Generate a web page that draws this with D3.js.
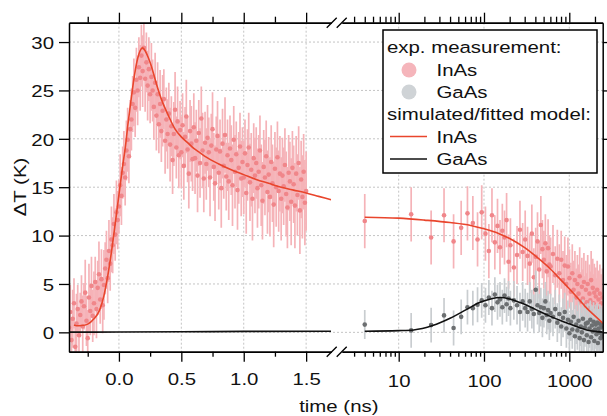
<!DOCTYPE html>
<html>
<head>
<meta charset="utf-8">
<script src="https://cdn.jsdelivr.net/npm/d3@7"></script>
<style>
  html, body { margin: 0; padding: 0; background: #fff; }
  svg { display: block; }
</style>
</head>
<body>
<div id="wrapper"></div>
<script>
// ---- data ----
// exp. InAs, short delays (linear part): [time ns, dT K, error K]
const inasShort = [
  [-0.40, 0.5, 2.4], [-0.39, 2.1, 2.8], [-0.38, -0.8, 2.2], [-0.37, 1.4, 3.0], [-0.36, 3.0, 2.6],
  [-0.35, -1.5, 2.4], [-0.34, 0.9, 3.1], [-0.33, 2.4, 2.5], [-0.32, -0.3, 2.9], [-0.31, 1.8, 2.3],
  [-0.30, 3.2, 2.7], [-0.29, 0.6, 3.2], [-0.28, 2.7, 2.4], [-0.27, 4.1, 3.4], [-0.26, 1.2, 2.6],
  [-0.25, -0.6, 2.9], [-0.24, 3.6, 3.5], [-0.23, 2.2, 2.5], [-0.22, 4.8, 3.0], [-0.21, 1.7, 2.7],
  [-0.20, 3.0, 3.3], [-0.19, 5.2, 2.6], [-0.18, 2.4, 3.0], [-0.17, 4.6, 2.8], [-0.16, 6.0, 3.4],
  [-0.15, 3.4, 2.5], [-0.14, 5.5, 3.1], [-0.13, 2.8, 2.9], [-0.12, 4.9, 3.6], [-0.11, 6.6, 2.7],
  [-0.10, 7.5, 3.0], [-0.09, 5.6, 2.6], [-0.08, 8.4, 3.2], [-0.07, 7.1, 2.8], [-0.06, 9.6, 3.4],
  [-0.05, 9.0, 2.9], [-0.04, 11.2, 3.1], [-0.03, 10.1, 2.7], [-0.02, 12.4, 3.3], [-0.01, 11.6, 3.0],
  [0.00, 13.0, 2.8], [0.01, 15.2, 3.2], [0.02, 14.1, 3.0], [0.03, 16.5, 2.7], [0.04, 17.4, 3.4],
  [0.05, 16.0, 2.9], [0.06, 18.8, 3.1], [0.07, 19.9, 3.3], [0.08, 18.2, 2.8], [0.09, 21.0, 3.0],
  [0.10, 22.0, 3.2], [0.11, 23.6, 2.9], [0.12, 24.8, 3.5], [0.13, 23.2, 3.0], [0.14, 26.1, 3.3],
  [0.15, 25.0, 3.6], [0.16, 27.4, 3.1], [0.17, 26.3, 3.4], [0.18, 28.6, 3.2], [0.19, 27.0, 3.7],
  [0.20, 29.4, 3.0], [0.21, 26.2, 3.4], [0.22, 27.9, 3.1], [0.23, 25.5, 3.6], [0.24, 27.2, 3.3],
  [0.25, 24.6, 3.0], [0.26, 26.4, 3.5], [0.27, 25.0, 3.2], [0.28, 23.3, 3.4], [0.29, 25.8, 3.1],
  [0.30, 22.4, 3.6], [0.31, 24.6, 3.3], [0.32, 21.5, 3.0], [0.33, 23.6, 3.5], [0.34, 20.8, 3.2],
  [0.35, 22.9, 3.7], [0.36, 24.1, 3.1], [0.37, 19.8, 3.4], [0.38, 22.0, 3.3], [0.39, 20.5, 3.6],
  [0.40, 22.6, 3.2], [0.41, 19.4, 3.8], [0.42, 21.3, 3.1], [0.43, 17.8, 3.5], [0.44, 20.5, 3.3],
  [0.45, 23.0, 3.9], [0.46, 19.1, 3.2], [0.47, 21.8, 3.6], [0.48, 18.3, 3.4], [0.49, 20.9, 3.0],
  [0.50, 18.6, 3.7], [0.51, 21.4, 3.3], [0.52, 17.2, 3.5], [0.53, 20.2, 3.1], [0.54, 22.3, 3.8],
  [0.55, 18.9, 3.4], [0.56, 16.4, 3.6], [0.57, 20.8, 3.2], [0.58, 19.5, 3.9], [0.59, 17.9, 3.3],
  [0.60, 21.2, 3.5], [0.61, 18.0, 3.7], [0.62, 19.8, 3.2], [0.63, 16.2, 3.8], [0.64, 20.6, 3.4],
  [0.65, 17.5, 3.6], [0.66, 22.1, 3.3], [0.67, 18.8, 3.9], [0.68, 15.9, 3.5], [0.69, 19.6, 3.2],
  [0.70, 17.4, 3.7], [0.71, 20.1, 3.4], [0.72, 18.6, 3.6], [0.73, 16.0, 4.0], [0.74, 19.3, 3.3],
  [0.75, 21.0, 3.8], [0.76, 17.1, 3.5], [0.77, 15.4, 3.9], [0.78, 18.9, 3.4], [0.79, 20.3, 3.6],
  [0.80, 16.5, 3.8], [0.81, 18.7, 3.3], [0.82, 14.9, 4.1], [0.83, 19.5, 3.6], [0.84, 17.2, 3.4],
  [0.85, 20.4, 3.9], [0.86, 16.1, 3.5], [0.87, 18.3, 3.7], [0.88, 15.6, 4.0], [0.89, 19.0, 3.4],
  [0.90, 17.8, 3.6], [0.91, 15.2, 4.2], [0.92, 19.9, 3.5], [0.93, 16.6, 3.8], [0.94, 18.4, 3.4],
  [0.95, 14.7, 4.1], [0.96, 17.0, 3.7], [0.97, 19.2, 3.5], [0.98, 15.9, 3.9], [0.99, 17.6, 3.6],
  [1.00, 16.0, 3.8], [1.01, 18.5, 3.5], [1.02, 14.4, 4.2], [1.03, 17.3, 3.7], [1.04, 19.1, 3.6],
  [1.05, 15.5, 4.0], [1.06, 16.8, 3.8], [1.07, 13.8, 4.3], [1.08, 18.0, 3.6], [1.09, 16.2, 3.9],
  [1.10, 17.5, 3.7], [1.11, 14.9, 4.1], [1.12, 16.6, 3.8], [1.13, 18.8, 3.6], [1.14, 15.2, 4.2],
  [1.15, 13.6, 4.0], [1.16, 17.1, 3.8], [1.17, 16.0, 3.9], [1.18, 18.2, 3.7], [1.19, 14.5, 4.3],
  [1.20, 16.3, 3.9], [1.21, 14.0, 4.1], [1.22, 17.6, 3.8], [1.23, 15.4, 4.0], [1.24, 13.2, 4.4],
  [1.25, 16.9, 3.8], [1.26, 15.0, 4.1], [1.27, 18.1, 3.7], [1.28, 14.6, 4.2], [1.29, 16.4, 3.9],
  [1.30, 13.8, 4.3], [1.31, 16.2, 3.9], [1.32, 15.1, 4.0], [1.33, 17.3, 3.8], [1.34, 14.3, 4.4],
  [1.35, 12.9, 4.2], [1.36, 16.5, 3.9], [1.37, 15.6, 4.1], [1.38, 13.5, 4.5], [1.39, 17.0, 3.8],
  [1.40, 15.3, 4.0], [1.41, 13.1, 4.4], [1.42, 16.4, 3.9], [1.43, 14.2, 4.2], [1.44, 17.5, 3.8],
  [1.45, 12.6, 4.5], [1.46, 15.8, 4.0], [1.47, 14.0, 4.3], [1.48, 16.6, 3.9], [1.49, 13.4, 4.4],
  [1.50, 14.6, 4.1]
]

// exp. InAs, long delays (log part): [time ns, dT K, error K]
const inasLong = [
  [4, 11.5, 2.8], [14, 12.2, 2.8], [24, 9.8, 2.8], [34, 12.1, 2.8], [44, 9.4, 2.8],
  [54, 10.8, 2.8], [64, 12.3, 2.8], [74, 11.3, 2.8], [84, 9.6, 2.8], [94, 12.4, 2.8],
  [104, 10.2, 2.8], [114, 8.4, 2.8], [124, 12.1, 2.8], [134, 9.3, 2.8], [144, 11.0, 2.8],
  [154, 8.8, 2.8], [164, 10.5, 2.8], [174, 9.8, 2.8], [184, 11.6, 2.8], [194, 7.3, 2.8],
  [204, 9.0, 2.8], [224, 6.7, 3], [244, 8.0, 3], [264, 10.6, 3], [284, 8.3, 3],
  [304, 9.6, 3], [324, 7.9, 3], [344, 7.1, 3], [364, 10.2, 3], [384, 5.7, 3],
  [404, 7.8, 3], [424, 9.4, 3], [444, 6.5, 3], [464, 11.1, 3], [484, 8.6, 3],
  [504, 7.5, 3], [524, 9.2, 3], [544, 6.3, 3], [564, 8.7, 3], [584, 7.0, 3],
  [604, 6.8, 3], [644, 8.1, 3], [684, 5.9, 3], [724, 7.6, 3], [764, 6.1, 3],
  [804, 7.5, 3], [844, 5.4, 3], [884, 6.9, 3], [924, 5.0, 3], [964, 6.8, 3],
  [1004, 5.6, 3], [1044, 4.2, 3], [1084, 6.1, 3], [1124, 4.4, 3], [1164, 5.4, 3],
  [1204, 3.6, 3], [1244, 5.0, 3], [1284, 4.0, 3], [1324, 5.8, 3], [1364, 3.2, 3],
  [1404, 4.7, 3], [1444, 3.5, 3], [1484, 5.2, 3], [1524, 2.8, 3], [1564, 4.4, 3],
  [1604, 3.1, 3], [1644, 5.0, 3], [1684, 2.5, 3], [1724, 4.0, 3], [1764, 3.3, 3],
  [1804, 5.4, 3], [1844, 2.2, 3], [1884, 4.6, 3], [1924, 3.0, 3], [1964, 4.1, 3],
  [2004, 1.8, 3], [2044, 3.7, 3], [2084, 2.6, 3], [2124, 4.4, 3], [2164, 1.5, 3],
  [2204, 3.4, 3], [2244, 2.4, 3], [2284, 4.0, 3], [2324, 1.2, 3], [2364, 3.0, 3],
  [2404, 2.2, 3], [2444, 3.6, 3], [2484, 1.6, 3]
]

// exp. GaAs, long delays: [time ns, dT K, error K]
const gaasLong = [
  [4, 0.8, 1.5], [14, 0.2, 1.8], [24, 0.75, 1.8], [34, 1.75, 1.8], [44, 0.45, 1.8],
  [54, 1.6, 1.8], [64, 2.6, 1.8], [74, 2.5, 1.8], [84, 2.85, 1.8], [94, 3.3, 1.8],
  [104, 2.8, 1.8], [114, 3.6, 1.8], [124, 2.5, 1.8], [134, 3.9, 1.8], [144, 3.1, 1.8],
  [154, 3.4, 1.8], [164, 2.6, 1.8], [174, 3.8, 1.8], [184, 2.9, 1.8], [194, 3.5, 1.8],
  [204, 2.5, 1.8], [224, 3.3, 2], [244, 2.8, 2], [264, 2.1, 2], [284, 3.2, 2],
  [304, 2.5, 2], [324, 2.1, 2], [344, 3.2, 2], [364, 2.4, 2], [384, 1.9, 2],
  [404, 4.4, 2], [424, 2.8, 2], [444, 2.0, 2], [464, 2.6, 2], [484, 1.5, 2],
  [504, 2.5, 2], [524, 3.2, 2], [544, 1.8, 2], [564, 2.3, 2], [584, 1.2, 2],
  [604, 2.0, 2], [644, 1.6, 2], [684, 2.4, 2], [724, 1.0, 2], [764, 1.9, 2],
  [804, 0.6, 2], [844, 1.5, 2], [884, 2.1, 2], [924, 0.4, 2], [964, 1.3, 2],
  [1004, -0.1, 2], [1044, 1.1, 2], [1084, 0.3, 2], [1124, 1.6, 2], [1164, -0.4, 2],
  [1204, 0.8, 2], [1244, 0.2, 2], [1284, 1.2, 2], [1324, -0.6, 2], [1364, 0.6, 2],
  [1404, 0.0, 2], [1444, 1.4, 2], [1484, -0.8, 2], [1524, 0.5, 2], [1564, 0.9, 2],
  [1604, -0.3, 2], [1644, 1.0, 2], [1684, -1.0, 2], [1724, 0.4, 2], [1764, 1.3, 2],
  [1804, -0.5, 2], [1844, 0.7, 2], [1884, 0.1, 2], [1924, 1.1, 2], [1964, -0.9, 2],
  [2004, 0.3, 2], [2044, 0.8, 2], [2084, -0.2, 2], [2124, 1.0, 2], [2164, -1.1, 2],
  [2204, 0.4, 2], [2244, 0.0, 2], [2284, 0.9, 2], [2324, -0.6, 2], [2364, 0.5, 2],
  [2404, -0.2, 2], [2444, 0.7, 2], [2484, -0.4, 2]
]

// simulated / fitted model curves: [time ns, dT K]
const inasFitShort = [
  [-0.36, 0.75], [-0.34, 0.68], [-0.30, 0.70], [-0.25, 0.85], [-0.20, 1.4], [-0.155, 2.3],
  [-0.12, 3.8], [-0.09, 5.8], [-0.06, 8.3], [-0.03, 11.2], [0.00, 14.2], [0.03, 17.2],
  [0.05, 19.0], [0.075, 21.8], [0.10, 24.3], [0.125, 26.6], [0.15, 28.3], [0.17, 29.1],
  [0.19, 29.4], [0.21, 29.1], [0.235, 28.4], [0.26, 27.5], [0.30, 25.7], [0.34, 24.1],
  [0.40, 22.3], [0.45, 21.0], [0.50, 20.2], [0.55, 19.6], [0.60, 19.0], [0.65, 18.55],
  [0.70, 18.1], [0.80, 17.4], [0.90, 16.8], [1.00, 16.3], [1.10, 15.8], [1.20, 15.4],
  [1.30, 15.0], [1.40, 14.7], [1.50, 14.4], [1.60, 14.05], [1.70, 13.7]
]
const gaasFitShort = [[-0.40, 0.02], [0.00, 0.03], [0.50, 0.06], [1.00, 0.10], [1.70, 0.12]]
const inasFitLong = [
  [4, 11.9], [10, 11.8], [20, 11.6], [40, 11.35], [70, 11.05], [100, 10.7], [150, 10.2],
  [200, 9.7], [300, 8.75], [400, 7.9], [600, 6.55], [800, 5.4], [1000, 4.5], [1300, 3.4],
  [1600, 2.5], [2000, 1.7], [2500, 0.9]
]
const gaasFitLong = [
  [4, 0.12], [10, 0.18], [15, 0.25], [25, 0.7], [40, 1.45], [62, 2.35], [90, 3.1],
  [120, 3.45], [155, 3.6], [200, 3.45], [270, 3.05], [345, 2.65], [450, 2.15], [600, 1.65],
  [800, 1.2], [1020, 0.85], [1300, 0.5], [1600, 0.25], [2000, 0.1], [2500, 0.02]
]

// ticks
const yTicks = [0, 5, 10, 15, 20, 25, 30]
const xTicksShort = [0, 0.5, 1.0, 1.5]
const xTickLabelsShort = ["0.0", "0.5", "1.0", "1.5"]
const xMinorShort = [-0.25, 0.25, 0.75, 1.25]
const xTicksLong = [10, 100, 1000]
const xTickLabelsLong = ["10", "100", "1000"]
const xMinorLong = [3, 4, 5, 6, 7, 8, 9, 20, 30, 40, 50, 60, 70, 80, 90,
  200, 300, 400, 500, 600, 700, 800, 900, 2000]

const legendItems = ["exp. measurement:", "InAs", "GaAs", "simulated/fitted model:", "InAs", "GaAs"]

// ---- dimensions ----
const width = 607
const height = 416
const box = { left: 69, right: 602.7, top: 22.7, bottom: 351.7, breakL: 331.1, breakR: 342 }

const FONT = "'Liberation Sans', Arial, Helvetica, sans-serif"
const SX = 1.2   // the source text is set wide
const col = {
  inasDot: "#f0868a", inasBar: "#f5b3b8",
  gaasDot: "#6c6f71", gaasBar: "#c9cdd0",
  inasFit: "#e9452c", gaasFit: "#111111",
  grid: "#c4c4c4",
}

const svg = d3.select("#wrapper").append("svg")
  .attr("width", width)
  .attr("height", height)
  .style("font-family", FONT)

// scales
const xShort = d3.scaleLinear().domain([-0.4, 1.7]).range([box.left, box.breakL])
const xLong = d3.scaleLog().domain([2.164, 2464]).range([box.breakR, box.right])
const yScale = d3.scaleLinear().domain([-2, 32]).range([box.bottom, box.top])

const defs = svg.append("defs")
defs.append("clipPath").attr("id", "clipShort").append("rect")
  .attr("x", box.left).attr("y", box.top)
  .attr("width", box.breakL - box.left).attr("height", box.bottom - box.top)
defs.append("clipPath").attr("id", "clipLong").append("rect")
  .attr("x", box.breakR).attr("y", box.top)
  .attr("width", box.right - box.breakR).attr("height", box.bottom - box.top)

// grid
const grid = svg.append("g")
  .attr("stroke", col.grid).attr("stroke-width", 1).attr("stroke-dasharray", "2,2")
grid.selectAll(".gy").data(yTicks).join("line")
  .attr("x1", box.left).attr("x2", box.right)
  .attr("y1", d => yScale(d)).attr("y2", d => yScale(d))
grid.selectAll(".gxs").data(xTicksShort).join("line").attr("class", "gxs")
  .attr("x1", d => xShort(d)).attr("x2", d => xShort(d))
  .attr("y1", box.top).attr("y2", box.bottom)
grid.selectAll(".gxl").data(xTicksLong).join("line").attr("class", "gxl")
  .attr("x1", d => xLong(d)).attr("x2", d => xLong(d))
  .attr("y1", box.top).attr("y2", box.bottom)

// data
function drawSeries(parent, data, xs, barColor, dotColor) {
  parent.append("g").attr("stroke", barColor).attr("stroke-width", 1.7)
    .selectAll("line").data(data).join("line")
    .attr("x1", d => xs(d[0])).attr("x2", d => xs(d[0]))
    .attr("y1", d => yScale(d[1] - d[2])).attr("y2", d => yScale(d[1] + d[2]))
  parent.append("g").attr("fill", dotColor)
    .selectAll("circle").data(data).join("circle")
    .attr("cx", d => xs(d[0])).attr("cy", d => yScale(d[1])).attr("r", 2.3)
}

const shortG = svg.append("g").attr("clip-path", "url(#clipShort)")
const longG = svg.append("g").attr("clip-path", "url(#clipLong)")

drawSeries(shortG, inasShort, xShort, col.inasBar, col.inasDot)
drawSeries(longG, inasLong, xLong, col.inasBar, col.inasDot)
drawSeries(longG, gaasLong, xLong, col.gaasBar, col.gaasDot)

function drawFit(parent, data, xs, color) {
  const line = d3.line().x(d => xs(d[0])).y(d => yScale(d[1])).curve(d3.curveMonotoneX)
  parent.append("path").attr("d", line(data))
    .attr("fill", "none").attr("stroke", color).attr("stroke-width", 1.6)
}
drawFit(shortG, gaasFitShort, xShort, col.gaasFit)
drawFit(shortG, inasFitShort, xShort, col.inasFit)
drawFit(longG, gaasFitLong, xLong, col.gaasFit)
drawFit(longG, inasFitLong, xLong, col.inasFit)

// axes
function styleAxis(g) {
  g.attr("font-family", FONT).attr("font-size", 17)
  g.selectAll("line").attr("stroke", "#000").attr("stroke-width", 1.3)
  g.selectAll("path").attr("stroke", "#000").attr("stroke-width", 1.5)
  return g
}
function bottomLabels(g, dy) {
  g.selectAll(".tick text")
    .attr("x", null).attr("y", null).attr("dy", null)
    .attr("fill", "#111")
    .attr("transform", `translate(0,${dy}) scale(${SX},1)`)
}

// bottom + top, short part
const shortLabel = d => xTickLabelsShort[xTicksShort.indexOf(d)]
styleAxis(svg.append("g").attr("transform", `translate(0,${box.bottom})`)
  .call(d3.axisBottom(xShort).tickValues(xTicksShort).tickSize(10).tickSizeOuter(0).tickFormat(shortLabel)))
  .call(g => bottomLabels(g, 33.3))
styleAxis(svg.append("g").attr("transform", `translate(0,${box.bottom})`)
  .call(d3.axisBottom(xShort).tickValues(xMinorShort).tickSize(5).tickSizeOuter(0).tickFormat("")))
styleAxis(svg.append("g").attr("transform", `translate(0,${box.top})`)
  .call(d3.axisTop(xShort).tickValues(xTicksShort).tickSize(10).tickSizeOuter(0).tickFormat("")))
styleAxis(svg.append("g").attr("transform", `translate(0,${box.top})`)
  .call(d3.axisTop(xShort).tickValues(xMinorShort).tickSize(6).tickSizeOuter(0).tickFormat("")))

// bottom + top, long part
const longLabel = d => xTickLabelsLong[xTicksLong.indexOf(d)]
styleAxis(svg.append("g").attr("transform", `translate(0,${box.bottom})`)
  .call(d3.axisBottom(xLong).tickValues(xTicksLong).tickSize(10).tickSizeOuter(0).tickFormat(longLabel)))
  .call(g => bottomLabels(g, 35))
styleAxis(svg.append("g").attr("transform", `translate(0,${box.bottom})`)
  .call(d3.axisBottom(xLong).tickValues(xMinorLong).tickSize(5).tickSizeOuter(0).tickFormat("")))
styleAxis(svg.append("g").attr("transform", `translate(0,${box.top})`)
  .call(d3.axisTop(xLong).tickValues(xTicksLong).tickSize(10).tickSizeOuter(0).tickFormat("")))
styleAxis(svg.append("g").attr("transform", `translate(0,${box.top})`)
  .call(d3.axisTop(xLong).tickValues(xMinorLong).tickSize(6).tickSizeOuter(0).tickFormat("")))

// left + right
styleAxis(svg.append("g").attr("transform", `translate(${box.left},0)`)
  .call(d3.axisLeft(yScale).tickValues(yTicks).tickSize(10).tickSizeOuter(0)))
  .call(g => g.selectAll(".tick text")
    .attr("x", null).attr("dy", null).attr("fill", "#111")
    .attr("text-anchor", "end")
    .attr("transform", `translate(-15,6.3) scale(${SX},1)`))
styleAxis(svg.append("g").attr("transform", `translate(${box.right},0)`)
  .call(d3.axisRight(yScale).tickValues(yTicks).tickSize(5).tickSizeOuter(0).tickFormat("")))

// axis breaks
const breaks = svg.append("g").attr("stroke", "#000").attr("stroke-width", 1.3)
;[box.top, box.bottom].forEach(yb => {
  ;[331.7, 341.7].forEach(xb => {
    breaks.append("line")
      .attr("x1", xb - 5).attr("y1", yb + 5)
      .attr("x2", xb + 5).attr("y2", yb - 5)
  })
})

// axis titles
svg.append("text")
  .attr("transform", `translate(338.8,411.5) scale(${SX},1)`)
  .attr("text-anchor", "middle").attr("font-size", 17).attr("fill", "#111")
  .text("time (ns)")
svg.append("text")
  .attr("transform", `translate(25.5,187) rotate(-90) scale(${SX},1)`)
  .attr("text-anchor", "middle").attr("font-size", 17).attr("fill", "#111")
  .text("ΔT (K)")

// legend
const legend = svg.append("g")
legend.append("rect")
  .attr("x", 383).attr("y", 30).attr("width", 214).attr("height", 143)
  .attr("fill", "#fff").attr("stroke", "#000").attr("stroke-width", 1.5)

const legendBase = [53, 75.5, 97.5, 120, 142.5, 165]
const legendX = [387, 436.5, 436.5, 387, 436.5, 436.5]
legend.selectAll("text").data(legendItems).join("text")
  .attr("transform", (d, i) => `translate(${legendX[i]},${legendBase[i]}) scale(${SX},1)`)
  .attr("font-size", 17).attr("fill", "#111")
  .text(d => d)

legend.append("circle").attr("cx", 409).attr("cy", legendBase[1] - 5.5).attr("r", 7.5).attr("fill", "#f5b5bb")
legend.append("circle").attr("cx", 409).attr("cy", legendBase[2] - 5.5).attr("r", 7.5).attr("fill", "#cfd3d6")
legend.append("line").attr("x1", 390).attr("x2", 427)
  .attr("y1", legendBase[4] - 6).attr("y2", legendBase[4] - 6)
  .attr("stroke", col.inasFit).attr("stroke-width", 1.6)
legend.append("line").attr("x1", 390).attr("x2", 427)
  .attr("y1", legendBase[5] - 6).attr("y2", legendBase[5] - 6)
  .attr("stroke", col.gaasFit).attr("stroke-width", 1.6)
</script>
</body>
</html>
